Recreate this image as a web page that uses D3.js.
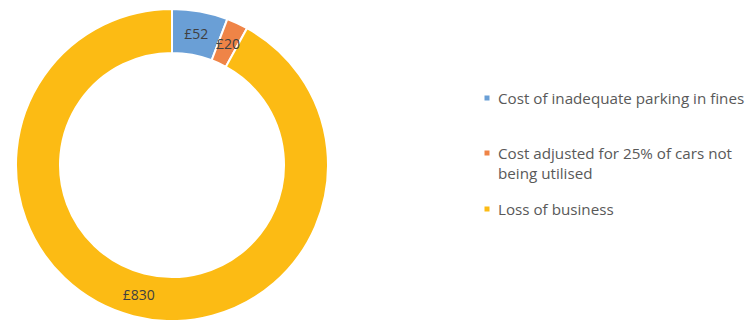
<!DOCTYPE html>
<html>
<head>
<meta charset="utf-8">
<script src="https://cdn.jsdelivr.net/npm/d3@7"></script>
<style>
  html, body { margin: 0; padding: 0; background: #ffffff; }
  svg { display: block; }
  text { font-family: "Open Sans", "Noto Sans", sans-serif; }
</style>
</head>
<body>
<svg id="chart" width="752" height="320"></svg>
<script>
const categories = [
  "Cost of inadequate parking in fines",
  "Cost adjusted for 25% of cars not being utilised",
  "Loss of business"
];
const values = [52, 20, 830];
const valueLabels = ["£52", "£20", "£830"];
const legendLines = [
  ["Cost of inadequate parking in fines"],
  ["Cost adjusted for 25% of cars not", "being utilised"],
  ["Loss of business"]
];
const colors = ["#6a9fd6", "#ef8447", "#fcbb14"];

const svg = d3.select("#chart");
const cx = 172, cy = 165, rOuter = 156, rInner = 112;

const pie = d3.pie().sort(null).value(d => d.value);
const data = categories.map((c, i) => ({ name: c, value: values[i], label: valueLabels[i], color: colors[i] }));
const arcs = pie(data);

const arc = d3.arc().innerRadius(rInner).outerRadius(rOuter);
const labelArc = d3.arc().innerRadius(134).outerRadius(134);

const g = svg.append("g").attr("transform", `translate(${cx},${cy})`);
g.selectAll("path.slice")
  .data(arcs)
  .join("path")
  .attr("class", "slice")
  .attr("d", arc)
  .attr("fill", d => d.data.color)
  .attr("stroke", "#ffffff")
  .attr("stroke-width", 2);

g.selectAll("text.lbl")
  .data(arcs)
  .join("text")
  .attr("class", "lbl")
  .attr("transform", d => `translate(${labelArc.centroid(d)})`)
  .attr("text-anchor", "middle")
  .attr("dominant-baseline", "central")
  .attr("font-size", 14)
  .attr("fill", "#404040")
  .text(d => d.data.label);

// legend
const legendX = 487, legendTextX = 498;
const legendY = [98, 153, 209];
const lg = svg.append("g");
legendLines.forEach((lines, i) => {
  lg.append("rect")
    .attr("x", legendX - 2.5)
    .attr("y", legendY[i] - 2.5)
    .attr("width", 5)
    .attr("height", 5)
    .attr("fill", colors[i]);
  const t = lg.append("text")
    .attr("x", legendTextX)
    .attr("y", legendY[i] + 5.5)
    .attr("font-size", 15.2)
    .attr("fill", "#595959");
  lines.forEach((ln, j) => {
    t.append("tspan")
      .attr("x", legendTextX)
      .attr("dy", j === 0 ? 0 : 20)
      .text(ln);
  });
});
</script>
</body>
</html>
